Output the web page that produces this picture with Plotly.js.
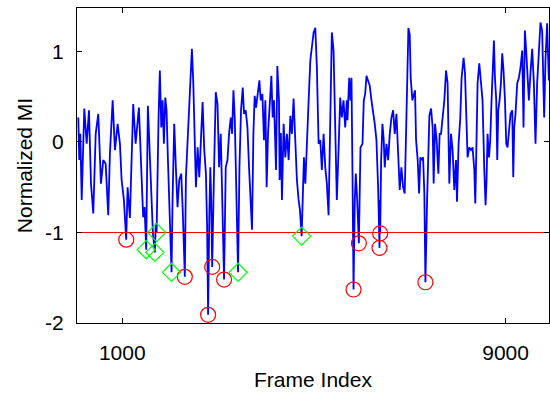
<!DOCTYPE html>
<html>
<head>
<meta charset="utf-8">
<script src="https://cdn.plot.ly/plotly-3.0.1.min.js"></script>
<style>html,body{margin:0;padding:0;background:#fff;}#chart{width:550px;height:393px;}</style>
</head>
<body>
<div id="chart"></div>
<script>
const frames = [83,104,125,154,208,258,306,348,396,446,500,556,604,654,708,743,800,848,904,952,987,1035,1083,1112,1160,1229,1279,1348,1404,1437,1466,1500,1535,1571,1604,1640,1681,1700,1717,1731,1758,1785,1815,1842,1869,1898,1925,1952,1981,2029,2050,2085,2119,2154,2190,2231,2265,2306,2329,2364,2400,2433,2454,2483,2510,2538,2573,2608,2642,2677,2712,2746,2770,2792,2817,2838,2855,2877,2917,2952,2988,3021,3056,3092,3125,3160,3196,3229,3265,3292,3321,3348,3375,3396,3417,3446,3479,3515,3542,3577,3613,3646,3681,3708,3737,3764,3792,3827,3862,3890,3925,3958,3987,4014,4042,4083,4112,4140,4167,4209,4237,4271,4284,4310,4333,4368,4403,4437,4473,4508,4541,4576,4612,4645,4681,4708,4744,4764,4792,4821,4854,4890,4925,4958,4994,5029,5062,5098,5133,5166,5202,5237,5270,5306,5341,5374,5410,5445,5478,5514,5549,5582,5618,5653,5687,5701,5736,5763,5784,5805,5827,5853,5874,5903,5938,5972,6014,6041,6070,6097,6132,6166,6201,6236,6270,6305,6340,6369,6374,6383,6403,6430,6457,6478,6514,6549,6583,6618,6653,6687,6722,6757,6791,6826,6861,6895,6930,6951,6972,6999,7020,7055,7110,7132,7166,7195,7222,7249,7278,7305,7316,7327,7362,7389,7410,7445,7478,7499,7528,7561,7597,7624,7653,7686,7722,7757,7790,7826,7861,7894,7930,7965,7986,8019,8055,8082,8124,8153,8180,8207,8243,8278,8311,8347,8368,8395,8416,8451,8486,8519,8555,8582,8603,8624,8653,8680,8707,8736,8757,8778,8805,8826,8847,8874,8903,8930,8957,8987,9014,9041,9070,9103,9139,9160,9180,9207,9243,9278,9311,9347,9374,9403,9430,9457,9486,9519,9555,9590,9624,9659,9694,9728,9763,9784,9805,9832,9867,9903];
const mi = [0.27,-0.20,0.09,-0.64,0.37,-0.02,0.35,-0.46,-0.79,0.09,0.31,-0.46,-0.20,-0.24,-0.81,-0.13,0.46,-0.09,0.20,-0.02,-0.42,-0.64,-1.08,-0.50,-0.84,0.42,-0.02,0.38,-0.39,-0.83,-0.72,-1.19,0.40,-0.09,-0.72,-1.01,-1.22,-0.90,-1.00,-0.46,0.27,0.79,0.16,0.46,-0.02,0.49,0.35,-0.17,-0.72,-1.44,-0.64,0.20,-0.28,-0.72,-0.42,-0.35,-0.79,-1.49,-0.39,0.00,0.46,0.87,1.03,0.65,0.02,-0.50,-0.06,-0.39,0.02,0.44,-0.09,-0.35,-0.90,-1.91,-0.83,-0.28,-0.60,-1.38,-0.28,0.55,0.42,-0.28,0.09,-0.72,-1.52,-0.28,-0.20,0.09,0.27,0.09,0.57,0.27,-0.28,-0.83,-1.44,-0.28,0.35,0.60,0.31,0.35,0.16,-0.28,-0.64,-0.97,0.09,0.51,0.38,0.53,0.68,0.46,0.53,0.02,0.46,-0.50,0.09,0.46,0.73,0.27,0.46,-0.31,0.84,0.46,-0.42,0.10,-0.64,0.20,-0.17,0.09,-0.20,0.29,0.09,0.48,0.02,-0.42,-0.64,-0.75,-1.04,-0.64,-0.17,-0.46,0.09,0.46,0.90,1.09,1.21,1.26,0.82,-0.02,0.02,-0.31,0.09,-0.28,-0.46,-0.81,0.46,1.21,1.01,0.27,-0.64,-0.09,0.49,0.27,0.46,0.16,0.46,0.24,0.71,0.46,0.71,-0.35,-1.63,-0.64,-0.35,-0.64,-1.12,-0.06,-0.02,0.46,0.53,0.73,0.68,0.62,0.46,0.35,0.20,0.02,-0.50,-1.17,-0.64,-1.01,-0.20,0.20,0.02,-0.28,-0.02,-0.20,0.09,0.27,0.35,0.09,0.31,-0.09,-0.53,-0.28,-0.50,-0.57,0.46,1.01,1.26,1.19,0.71,0.46,0.57,0.02,-0.20,-0.57,-0.17,-0.20,-0.17,-0.57,-1.08,-1.55,-0.64,-0.09,0.29,0.37,0.16,-0.46,0.20,0.02,-0.35,0.09,0.09,0.27,0.46,0.79,0.65,-0.46,0.09,-0.09,-0.53,-0.20,-0.66,-0.02,0.27,0.71,0.93,0.76,0.27,-0.17,-0.06,-0.09,-0.06,-0.31,-0.68,0.27,0.65,0.87,0.65,0.46,-0.30,-0.70,-0.42,0.09,-0.17,0.02,0.46,0.82,1.12,0.71,0.46,-0.20,0.35,0.46,0.65,0.98,0.79,0.46,-0.02,-0.06,0.16,0.31,0.35,-0.39,0.16,0.31,0.65,0.71,0.82,1.01,0.16,1.23,1.01,0.65,0.46,0.76,1.03,0.65,-0.02,0.65,1.01,1.32,1.23,0.82,0.27,0.90,1.31,0.68];

const circleFrames = [1083,2306,2792,2877,3125,5827,5938,6369,6383,7327];
const circleValues = [-1.08,-1.49,-1.91,-1.38,-1.52,-1.63,-1.12,-1.17,-1.01,-1.55];
const diamondFrames = [1500,1681,1717,2029,3417,4744];
const diamondValues = [-1.19,-1.22,-1.00,-1.44,-1.44,-1.04];

const threshold = -1;
const xRange = [56, 9906];
const yRange = [-2, 1.48];
const xTicks = [1000, 9000];
const xTickText = ['1000', '9000'];
const yTicks = [-2, -1, 0, 1];
const yTickText = ['-2', '-1', '0', '1'];

const traces = [
  {x: frames, y: mi, type: 'scatter', mode: 'lines', line: {color: '#0000ff', width: 1.8}, hoverinfo: 'skip'},
  {x: xRange, y: [threshold, threshold], type: 'scatter', mode: 'lines', line: {color: '#ff0000', width: 1.2}},
  {x: circleFrames, y: circleValues, type: 'scatter', mode: 'markers',
   marker: {symbol: 'circle-open', size: 15, color: '#ff0000', line: {width: 1.2, color: '#ff0000'}}},
  {x: diamondFrames, y: diamondValues, type: 'scatter', mode: 'markers',
   marker: {symbol: 'diamond-open', size: 14, color: '#00ff00', line: {width: 1.2, color: '#00ff00'}}}
];

const font = {family: 'Liberation Sans, Arial, sans-serif', size: 21, color: '#000'};
const layout = {
  width: 550, height: 393,
  margin: {l: 77, r: 1, t: 8, b: 70},
  paper_bgcolor: '#fff', plot_bgcolor: '#fff',
  showlegend: false,
  font: font,
  xaxis: {
    range: xRange, tickvals: xTicks, ticktext: xTickText,
    ticks: 'inside', ticklen: 5, tickwidth: 1, tickcolor: '#000',
    showline: true, linecolor: '#000', linewidth: 1, mirror: 'ticks',
    showgrid: false, zeroline: false, ticklabelstandoff: 11,
    tickfont: font,
    title: {text: 'Frame Index', font: font, standoff: 9}
  },
  yaxis: {
    range: yRange, tickvals: yTicks, ticktext: yTickText,
    ticks: 'inside', ticklen: 5, tickwidth: 1, tickcolor: '#000',
    showline: true, linecolor: '#000', linewidth: 1, mirror: 'ticks',
    showgrid: false, zeroline: false, ticklabelstandoff: 8,
    tickfont: font,
    title: {text: 'Normalized MI', font: font, standoff: 6}
  }
};
Plotly.newPlot('chart', traces, layout, {displayModeBar: false, staticPlot: true});
</script>
</body>
</html>
